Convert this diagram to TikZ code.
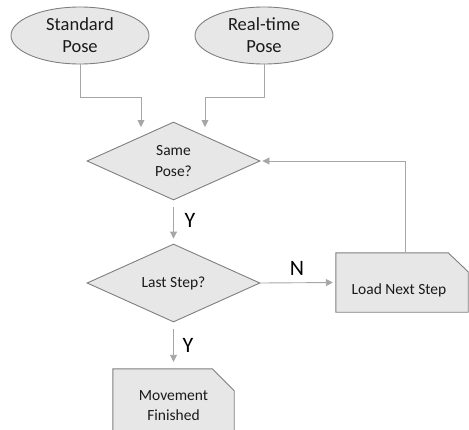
\documentclass[tikz,border=0pt]{standalone}
\usepackage{fontspec}
\setmainfont{Carlito}
\usetikzlibrary{shapes.geometric,arrows.meta,calc}
\definecolor{shfill}{HTML}{E7E7E7}
\definecolor{shdraw}{HTML}{7F7F7F}
\definecolor{conncol}{HTML}{A6A6A6}
\definecolor{txt}{HTML}{1A1A1A}
\tikzset{
  ell/.style={ellipse, draw=shdraw, fill=shfill, line width=0.9pt, minimum width=138pt, minimum height=57pt, inner sep=0pt, align=center, font=\fontsize{18.5}{22}\selectfont, text=txt},
  dia/.style={diamond, draw=shdraw, fill=shfill, line width=0.9pt, minimum width=173pt, minimum height=78pt, inner sep=0pt, align=center, font=\fontsize{15.5}{21}\selectfont, text=txt},
  boxarea/.style={rectangle, inner sep=0pt},
  cutline/.style={draw=shdraw, fill=shfill, line width=0.9pt, line join=miter},
  lbl/.style={font=\fontsize{15.5}{20}\selectfont, text=txt, align=center},
  yn/.style={font=\fontsize{22}{24}\selectfont, text=black},
  conn/.style={draw=conncol, line width=0.9pt, -{Triangle[width=7pt,length=7pt]}}
}
\begin{document}
\begin{tikzpicture}[x=1pt,y=-1pt]
\useasboundingbox (0,0) rectangle (469,429);
\clip (0,0) rectangle (469,429);
\node[ell] (sp) at (80,35.5) {Standard\\Pose};
\node[ell] (rt) at (264,35.5) {Real-time\\Pose};
\node[dia] (d1) at (173.5,161) {Same\\Pose?};
\node[dia] (d2) at (173.5,283) {Last Step?};
% Load Next Step box
\node[boxarea, minimum width=132pt, minimum height=59pt] (load) at (402,282.5) {};
\draw[cutline] (load.south west) -- (load.north west) -- ($(load.north east)+(-20,0)$) -- ($(load.north east)+(0,19)$) -- (load.south east) -- cycle;
\node[lbl] (loadt) at (399,290) {Load Next Step};
% Movement Finished box
\node[boxarea, minimum width=121pt, minimum height=76pt] (mf) at (173.5,407) {};
\draw[cutline] (mf.south west) -- (mf.north west) -- ($(mf.north east)+(-22,0)$) -- ($(mf.north east)+(0,22)$) -- (mf.south east) -- cycle;
\node[lbl] (mft) at (173.5,406) {Movement\\Finished};
\coordinate (j1) at (141,97);
\coordinate (in1) at (141,127);
\coordinate (j2) at (205,97);
\coordinate (in2) at (205,127);
\coordinate (up) at (405,253);
\coordinate (upc) at (405,161);
\draw[conn] (sp.south) |- (j1) -- (in1);
\draw[conn] (rt.south) |- (j2) -- (in2);
\draw[conn, shorten <=7pt, shorten >=5pt] (d1.south) -- (d2.north);
\node[yn] (y1) at (190,220) {Y};
\draw[conn, shorten >=3pt] (d2.east) -- (load.west);
\node[yn] (n1) at (297,268) {N};
\draw[conn, shorten >=2pt] (up) -- (upc) -- (d1.east);
\draw[conn, shorten <=7pt, shorten >=7pt] (d2.south) -- (mf.north);
\node[yn] (y2) at (188,345) {Y};
\end{tikzpicture}
\end{document}
